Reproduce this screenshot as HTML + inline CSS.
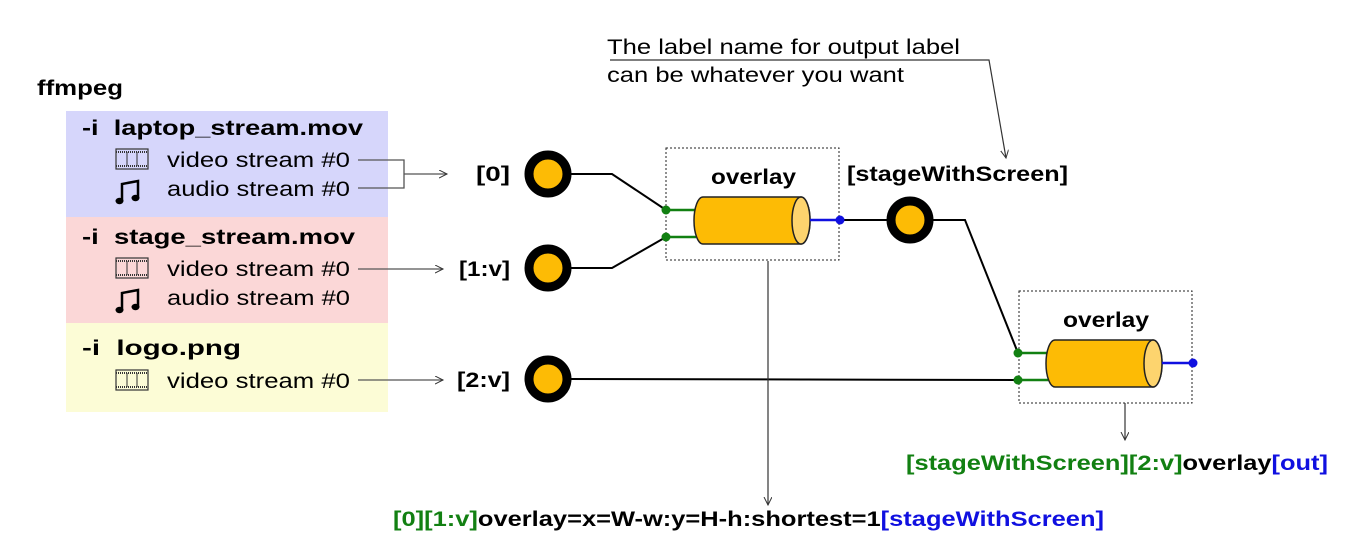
<!DOCTYPE html>
<html><head><meta charset="utf-8"><style>
html,body{margin:0;padding:0;background:#fff;}
svg{display:block;font-family:"Liberation Sans",sans-serif;}
.b{font-weight:bold;font-size:21px;}
.r{font-size:21px;}
</style></head><body>
<svg width="1355" height="560" viewBox="0 0 1355 560" xmlns="http://www.w3.org/2000/svg">
<defs>
<marker id="ar" markerWidth="10" markerHeight="10" refX="8" refY="4" orient="auto" markerUnits="userSpaceOnUse">
<path d="M0,0 L8,4 L0,8" fill="none" stroke="#333" stroke-width="1"/></marker>
<g id="film"><rect x="0" y="0" width="32" height="20" fill="none" stroke="#333" stroke-width="1.2"/>
<line x1="0" y1="3" x2="32" y2="3" stroke="#333" stroke-dasharray="1 1" stroke-width="2"/>
<line x1="0" y1="17" x2="32" y2="17" stroke="#333" stroke-dasharray="1 1" stroke-width="2"/>
<line x1="11" y1="3" x2="11" y2="17" stroke="#333"/><line x1="21" y1="3" x2="21" y2="17" stroke="#333"/></g>
<g id="note"><path d="M6,20 L6,3 L22,0 L22,17" fill="none" stroke="#000" stroke-width="2.5"/>
<ellipse cx="3.5" cy="20" rx="4" ry="3.2" fill="#000"/><ellipse cx="19.5" cy="17" rx="4" ry="3.2" fill="#000"/></g>
<g id="pad"><circle r="19" fill="#fdbb05" stroke="#000" stroke-width="9"/></g>
</defs>

<text x="37" y="95" class="b" textLength="86" lengthAdjust="spacingAndGlyphs">ffmpeg</text>
<rect x="66" y="111" width="322" height="106" fill="#d6d6fb"/>
<rect x="66" y="217" width="322" height="106" fill="#fbd7d7"/>
<rect x="66" y="323" width="322" height="89" fill="#fcfcd6"/>

<text x="82" y="135" class="b" textLength="281" lengthAdjust="spacingAndGlyphs">-i&#160;&#160;laptop_stream.mov</text>
<use href="#film" x="116" y="149"/><text x="167" y="167" class="r" textLength="183" lengthAdjust="spacingAndGlyphs">video stream #0</text>
<use href="#note" x="116" y="181"/><text x="167" y="196" class="r" textLength="183" lengthAdjust="spacingAndGlyphs">audio stream #0</text>
<text x="82" y="244" class="b" textLength="273" lengthAdjust="spacingAndGlyphs">-i&#160;&#160;stage_stream.mov</text>
<use href="#film" x="116" y="258"/><text x="167" y="276" class="r" textLength="183" lengthAdjust="spacingAndGlyphs">video stream #0</text>
<use href="#note" x="116" y="290"/><text x="167" y="305" class="r" textLength="183" lengthAdjust="spacingAndGlyphs">audio stream #0</text>
<text x="82" y="355" class="b" textLength="159" lengthAdjust="spacingAndGlyphs">-i&#160;&#160;logo.png</text>
<use href="#film" x="116" y="370"/><text x="167" y="388" class="r" textLength="183" lengthAdjust="spacingAndGlyphs">video stream #0</text>

<g stroke="#555" stroke-width="1.3" fill="none">
<path d="M358,160 H404 V188 H358"/>
<line x1="404" y1="174" x2="447" y2="174" marker-end="url(#ar)"/>
<line x1="358" y1="269" x2="443" y2="269" marker-end="url(#ar)"/>
<line x1="358" y1="380" x2="443" y2="380" marker-end="url(#ar)"/>
</g>

<text x="476" y="181" class="b" textLength="34" lengthAdjust="spacingAndGlyphs">[0]</text>
<text x="459" y="276" class="b" textLength="51" lengthAdjust="spacingAndGlyphs">[1:v]</text>
<text x="457" y="387" class="b" textLength="53" lengthAdjust="spacingAndGlyphs">[2:v]</text>

<g stroke="#000" stroke-width="2" fill="none">
<path d="M568,174 H612 L666,210"/>
<path d="M568,268 H612 L666,237"/>
<path d="M568,379 L1018,380"/>
<path d="M840,220 H910"/>
<path d="M930,220 H965 L1018,353"/>
</g>

<rect x="666" y="148" width="173" height="112" fill="none" stroke="#222" stroke-width="1" stroke-dasharray="2 2"/>
<rect x="1019" y="291" width="173" height="112" fill="none" stroke="#222" stroke-width="1" stroke-dasharray="2 2"/>
<text x="711" y="184" class="b" textLength="85" lengthAdjust="spacingAndGlyphs">overlay</text>
<text x="1063" y="327" class="b" textLength="86" lengthAdjust="spacingAndGlyphs">overlay</text>

<g stroke="#128012" stroke-width="2.5"><line x1="666" y1="210" x2="696" y2="210"/><line x1="666" y1="237" x2="696" y2="237"/>
<line x1="1018" y1="353" x2="1048" y2="353"/><line x1="1018" y1="380" x2="1048" y2="380"/></g>
<g fill="#128012"><circle cx="666" cy="210" r="4.5"/><circle cx="666" cy="237" r="4.5"/><circle cx="1018" cy="353" r="4.5"/><circle cx="1018" cy="380" r="4.5"/></g>

<path d="M703,197 H801 A9,23.5 0 0 1 801,244 H703 A9,23.5 0 0 1 703,197 Z" fill="#fdbb05" stroke="#222" stroke-width="1.5"/>
<ellipse cx="801" cy="220.5" rx="9" ry="23.5" fill="#fdd46e" stroke="#222" stroke-width="1.5"/>
<path d="M1055,340 H1153 A9,23.5 0 0 1 1153,387 H1055 A9,23.5 0 0 1 1055,340 Z" fill="#fdbb05" stroke="#222" stroke-width="1.5"/>
<ellipse cx="1153" cy="363.5" rx="9" ry="23.5" fill="#fdd46e" stroke="#222" stroke-width="1.5"/>
<g stroke="#1010e0" stroke-width="2.5"><line x1="810" y1="220" x2="840" y2="220"/><line x1="1162" y1="363" x2="1193" y2="363"/></g>
<g fill="#1010e0"><circle cx="840" cy="220" r="4.5"/><circle cx="1193" cy="363" r="4.5"/></g>

<use href="#pad" x="548" y="174"/>
<use href="#pad" x="548" y="268"/>
<use href="#pad" x="548" y="379"/>
<use href="#pad" x="910" y="220"/>

<text x="847" y="181" class="b" textLength="221" lengthAdjust="spacingAndGlyphs">[stageWithScreen]</text>

<text x="607" y="54" class="r" textLength="353" lengthAdjust="spacingAndGlyphs">The label name for output label</text>
<text x="607" y="82" class="r" textLength="297" lengthAdjust="spacingAndGlyphs">can be whatever you want</text>
<g stroke="#333" stroke-width="1.2" fill="none">
<path d="M610,60 H989 L1006,158" marker-end="url(#ar)"/>
<line x1="768" y1="261" x2="768" y2="505" marker-end="url(#ar)"/>
<line x1="1125" y1="403" x2="1125" y2="440" marker-end="url(#ar)"/>
</g>

<text x="906" y="470" class="b" textLength="422" lengthAdjust="spacingAndGlyphs"><tspan fill="#128012">[stageWithScreen][2:v]</tspan><tspan fill="#000">overlay</tspan><tspan fill="#1010e0">[out]</tspan></text>
<text x="393" y="526" class="b" textLength="711" lengthAdjust="spacingAndGlyphs"><tspan fill="#128012">[0][1:v]</tspan><tspan fill="#000">overlay=x=W-w:y=H-h:shortest=1</tspan><tspan fill="#1010e0">[stageWithScreen]</tspan></text>
</svg>
</body></html>
